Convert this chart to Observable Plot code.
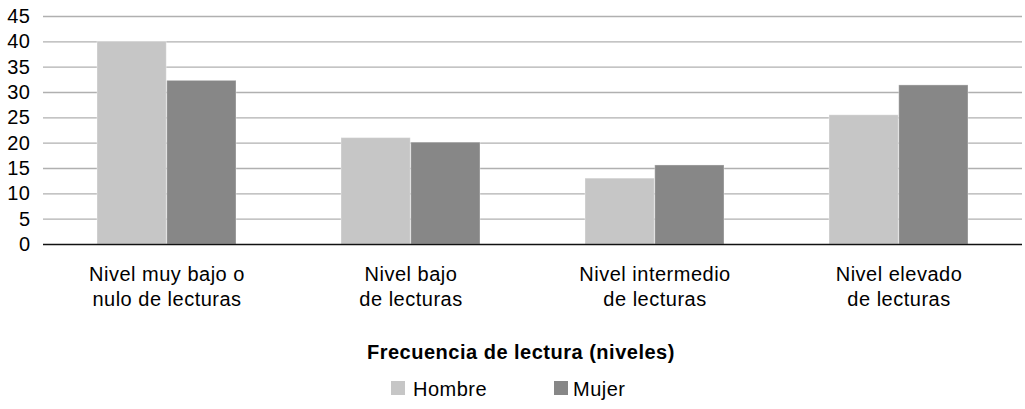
<!DOCTYPE html>
<html>
<head>
<meta charset="utf-8">
<script src="https://cdn.jsdelivr.net/npm/d3@7"></script>
<script src="https://cdn.jsdelivr.net/npm/@observablehq/plot@0.6"></script>
<style>
  html, body { margin: 0; padding: 0; background: #fff; }
  body { width: 1025px; height: 409px; position: relative; font-family: "Liberation Sans", Arial, sans-serif; letter-spacing: 0.5px; }
  #chart { position: absolute; left: 0; top: 0; }
  #title { position: absolute; left: 367px; top: 342px; font-weight: bold; font-size: 20px; line-height: 20px; white-space: nowrap; color: #000; }
  .item { position: absolute; top: 379px; font-size: 20px; line-height: 20px; white-space: nowrap; color: #000; }
  .sw { position: absolute; width: 14px; height: 14px; top: 381px; }
</style>
</head>
<body>
<div id="chart"></div>
<div id="title">Frecuencia de lectura (niveles)</div>
<div id="legend"></div>
<script>
const categories = [
  "Nivel muy bajo o\nnulo de lecturas",
  "Nivel bajo\nde lecturas",
  "Nivel intermedio\nde lecturas",
  "Nivel elevado\nde lecturas"
];
const series = ["Hombre", "Mujer"];
const hombre = [40.0, 21.0, 13.0, 25.5];
const mujer = [32.3, 20.1, 15.6, 31.4];
const yTicks = [0, 5, 10, 15, 20, 25, 30, 35, 40, 45];
const colors = ["#c6c6c6", "#878787"];

const W = 1025, ML = 43, MR = 3, PAD_IN = 0.43, PAD_OUT = 0.215;
const step = (W - ML - MR) / (categories.length - PAD_IN + 2 * PAD_OUT);
const half = step * (1 - PAD_IN) / 2;

const dataH = categories.map((c, i) => ({group: c, sex: "Hombre", value: hombre[i]}));
const dataM = categories.map((c, i) => ({group: c, sex: "Mujer", value: mujer[i]}));

const chart = Plot.plot({
  width: W,
  height: 315,
  marginTop: 16,
  marginBottom: 71,
  marginLeft: ML,
  marginRight: MR,
  style: {fontFamily: "Liberation Sans, Arial, sans-serif", fontSize: "20px", color: "#000", background: "#fff", letterSpacing: "0.5px"},
  x: {domain: categories, paddingInner: PAD_IN, paddingOuter: PAD_OUT, label: null},
  y: {domain: [0, 45], ticks: yTicks, label: null},
  color: {domain: series, range: colors},
  marks: [
    Plot.gridY(yTicks.filter(d => d > 0), {stroke: "#b0b0b0", strokeOpacity: 1, strokeWidth: 1.3}),
    Plot.axisY({ticks: yTicks, tickSize: 0, tickPadding: 13, fontSize: 20, label: null}),
    Plot.axisX({tickSize: 0, tickPadding: 19, fontSize: 20, lineHeight: 1.25, label: null, lineAnchor: "top"}),
    Plot.barY(dataH, {x: "group", y: "value", fill: "sex", insetRight: half, stroke: "#ffffff", strokeOpacity: 0.35, strokeWidth: 1}),
    Plot.barY(dataM, {x: "group", y: "value", fill: "sex", insetLeft: half, stroke: "#ffffff", strokeOpacity: 0.35, strokeWidth: 1}),
    Plot.ruleY([0], {stroke: "#111", strokeWidth: 1.5})
  ]
});
document.getElementById("chart").appendChild(chart);

const legend = document.getElementById("legend");
const swX = [391, 554], txX = [413, 573];
series.forEach((s, i) => {
  const sw = document.createElement("span");
  sw.className = "sw";
  sw.style.left = swX[i] + "px";
  sw.style.background = colors[i];
  legend.appendChild(sw);
  const t = document.createElement("span");
  t.className = "item";
  t.style.left = txX[i] + "px";
  t.textContent = s;
  legend.appendChild(t);
});
</script>
</body>
</html>
